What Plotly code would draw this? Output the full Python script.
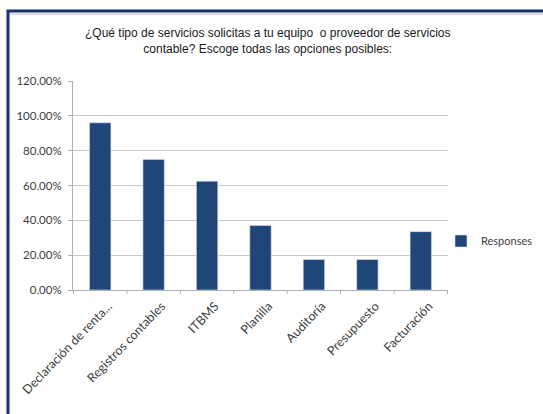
import plotly.graph_objects as go

# Survey responses: share of respondents requesting each accounting service
categories = [
    "Declaración de renta...",
    "Registros contables",
    "ITBMS",
    "Planilla",
    "Auditoría",
    "Presupuesto",
    "Facturación",
]
responses = [0.96, 0.75, 0.625, 0.37, 0.175, 0.175, 0.335]
y_ticks = [0.0, 0.2, 0.4, 0.6, 0.8, 1.0, 1.2]
y_tick_labels = ["0.00%", "20.00%", "40.00%", "60.00%", "80.00%", "100.00%", "120.00%"]

title_text = ("¿Qué tipo de servicios solicitas a tu equipo  o proveedor de servicios<br>"
              "contable? Escoge todas las opciones posibles:")

bar_color = "#1F4676"
frame_color = "#1B2F6B"
grid_color = "#C8C8C8"

W, H = 543, 414
L, R, T, B = 73, 95, 81, 124
pw, ph = W - L - R, H - T - B


def px_x(x):
    return (x - L) / pw


def px_y(y):
    return (H - B - y) / ph


fig = go.Figure()
fig.add_trace(go.Bar(
    x=categories,
    y=responses,
    name="Responses",
    marker=dict(color=bar_color, line=dict(color="#D6DEEA", width=0.6)),
    width=0.4,
))

fig.update_layout(
    width=W,
    height=H,
    margin=dict(l=L, r=R, t=T, b=B, pad=0, autoexpand=False),
    paper_bgcolor="white",
    plot_bgcolor="white",
    font=dict(family="Lato, Liberation Sans, Arial, sans-serif", size=11, color="#404040"),
    showlegend=True,
    legend=dict(
        x=px_x(441), y=px_y(241), xref="paper", yref="paper",
        xanchor="left", yanchor="middle",
        font=dict(size=11, color="#404040"),
        bgcolor="rgba(0,0,0,0)",
        itemwidth=30,
    ),
    xaxis=dict(
        type="category",
        showgrid=False,
        showline=True,
        linecolor="#B0B0B0",
        linewidth=1,
        ticks="",
        tickangle=-46,
        ticklabelshift=8,
        ticklabelstandoff=3,
        tickfont=dict(size=12.5, color="#404040"),
        zeroline=False,
    ),
    yaxis=dict(
        range=[0, 1.2],
        tickvals=y_ticks,
        ticktext=y_tick_labels,
        showgrid=True,
        gridcolor=grid_color,
        gridwidth=1,
        showline=True,
        linecolor="#B0B0B0",
        linewidth=1,
        ticks="outside",
        ticklen=4,
        tickcolor="#B0B0B0",
        ticklabelstandoff=4,
        tickfont=dict(size=11.5, color="#404040"),
        zeroline=False,
    ),
)

# Category-boundary tick marks below the x axis
for i in range(len(categories) + 1):
    fig.add_shape(
        type="line", xref="x", yref="paper",
        x0=i - 0.5, x1=i - 0.5, y0=0, y1=px_y(H - B + 4),
        line=dict(color="#B0B0B0", width=1),
    )

# Chart title
fig.add_annotation(
    text=title_text,
    xref="paper", yref="paper",
    x=px_x(268), y=px_y(24),
    xanchor="center", yanchor="top",
    showarrow=False,
    align="center",
    font=dict(family="Liberation Sans, Arial, sans-serif", size=12, color="#1A1A1A"),
)

# Outer frame around the chart
fig.add_shape(
    type="rect", xref="paper", yref="paper",
    x0=px_x(8), x1=px_x(W + 20), y0=px_y(H + 20), y1=px_y(11),
    line=dict(color=frame_color, width=3),
    fillcolor="rgba(0,0,0,0)",
    layer="above",
)
fig.add_shape(
    type="line", xref="paper", yref="paper",
    x0=px_x(10), x1=px_x(W + 20), y0=px_y(14), y1=px_y(14),
    line=dict(color="#B8BFCC", width=1),
)

fig.write_html("out.html")
